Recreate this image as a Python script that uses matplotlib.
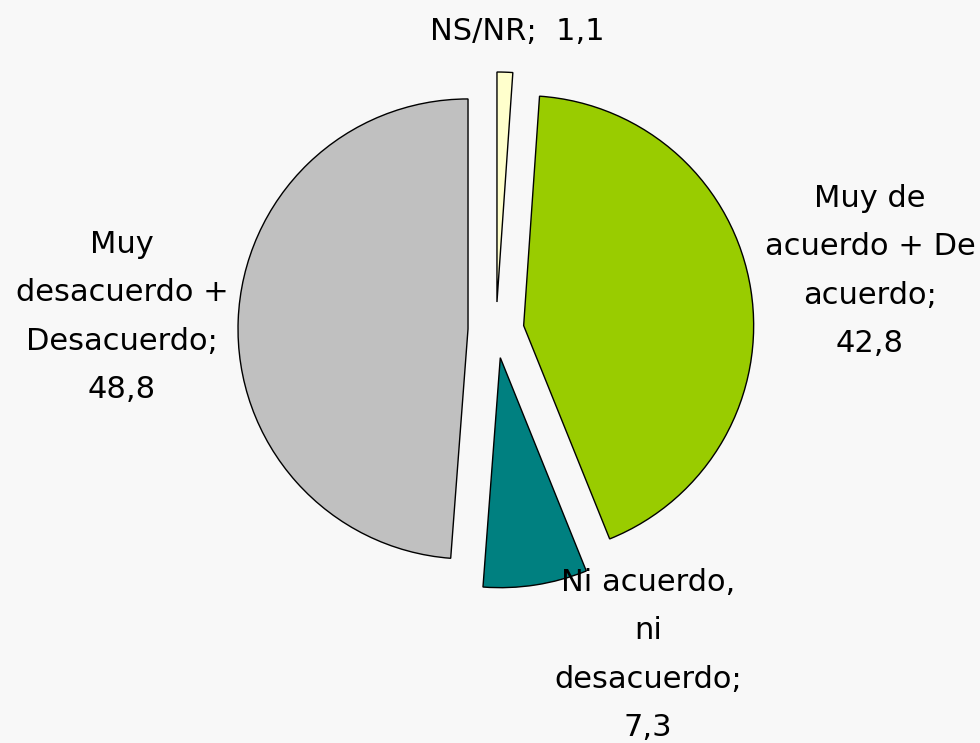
"""
Gráfico de torta: grado de acuerdo (%)
"""

import matplotlib
matplotlib.use("Agg")
import matplotlib.pyplot as plt

# Datos (en orden horario desde arriba)
categorias = ["NS/NR", "Muy de\nacuerdo + De\nacuerdo", "Ni acuerdo,\nni\ndesacuerdo",
              "Muy\ndesacuerdo +\nDesacuerdo"]
valores = [1.1, 42.8, 7.3, 48.8]
etiquetas_valor = ["1,1", "42,8", "7,3", "48,8"]
colores = ["#ffffcc", "#99cc00", "#008080", "#c0c0c0"]

fondo = "#f8f8f8"

fig = plt.figure(figsize=(9.8, 7.43), dpi=100, facecolor=fondo)
ax = fig.add_axes([0, 0, 1, 1])
ax.set_facecolor(fondo)

# Torta con porciones separadas (coordenadas en pixeles)
wedges, _ = ax.pie(valores, colors=colores, startangle=90, counterclock=False,
                   center=(496, 413), radius=230, explode=[28] * len(valores),
                   frame=True,
                   wedgeprops=dict(edgecolor="black", linewidth=1.0))

ax.set_xlim(0, 980)
ax.set_ylim(0, 743)
ax.set_aspect("equal")
ax.axis("off")

# Etiquetas de categoria + valor
posiciones = [(517, 712), (870, 472), (648, 88), (122, 426)]
for cat, val, (x, y) in zip(categorias, etiquetas_valor, posiciones):
    if "\n" in cat:
        texto = f"{cat};\n{val}"
    else:
        texto = f"{cat};  {val}"
    ax.text(x, y, texto, ha="center", va="center", fontsize=22,
            family="DejaVu Sans", linespacing=1.85, color="black")

plt.savefig("out.png", dpi=100, facecolor=fondo)
